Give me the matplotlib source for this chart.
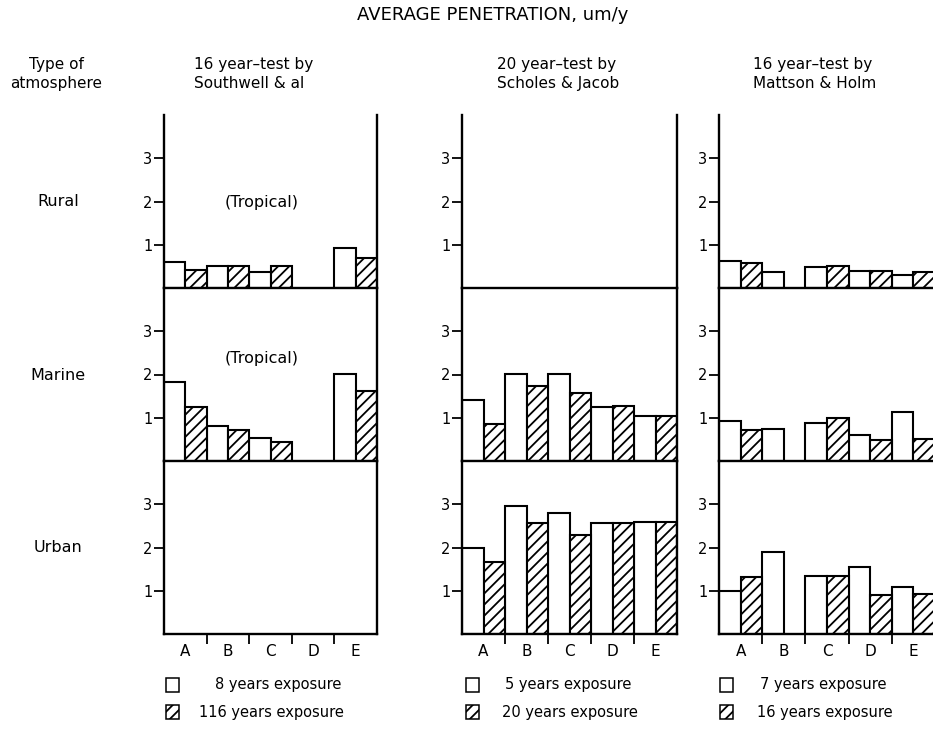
import numpy as np
import matplotlib
matplotlib.use("Agg")
import matplotlib.pyplot as plt
from matplotlib.patches import Rectangle

plt.rcParams["font.family"] = ["DejaVu Sans"]
plt.rcParams["hatch.linewidth"] = 1.3

W, H = 933, 738
nan = np.nan

categories = ["A", "B", "C", "D", "E"]
atmospheres = ["Rural", "Marine", "Urban"]

# Southwell & al, 16 year test (tropical sites)
southwell_short = [[0.59, 0.50, 0.38, nan, 0.93],
                   [1.82, 0.81, 0.53, nan, 2.02],
                   [nan, nan, nan, nan, nan]]
southwell_long = [[0.42, 0.50, 0.50, nan, 0.70],
                  [1.24, 0.71, 0.45, nan, 1.62],
                  [nan, nan, nan, nan, nan]]

# Scholes & Jacob, 20 year test
scholes_short = [[nan, nan, nan, nan, nan],
                 [1.41, 2.02, 2.02, 1.25, 1.03],
                 [2.00, 2.96, 2.80, 2.57, 2.60]]
scholes_long = [[nan, nan, nan, nan, nan],
                [0.86, 1.74, 1.57, 1.27, 1.05],
                [1.66, 2.57, 2.29, 2.57, 2.60]]

# Mattson & Holm, 16 year test
mattson_short = [[0.62, 0.37, 0.49, 0.39, 0.29],
                 [0.92, 0.74, 0.88, 0.61, 1.13],
                 [1.00, 1.89, 1.35, 1.54, 1.08]]
mattson_long = [[0.57, nan, 0.51, 0.39, 0.38],
                [0.72, nan, 0.99, 0.49, 0.50],
                [1.31, nan, 1.35, 0.91, 0.92]]

tests = [
    ("16 year\u2013test by\nSouthwell & al", southwell_short, southwell_long,
     "8 years exposure", "116 years exposure"),
    ("20 year\u2013test by\nScholes & Jacob", scholes_short, scholes_long,
     "5 years exposure", "20 years exposure"),
    ("16 year\u2013test by\nMattson & Holm", mattson_short, mattson_long,
     "7 years exposure", "16 years exposure"),
]

# panel placement in pixels: left edge, right edge
panel_x = [(164, 377), (462, 677), (719, 935)]
row_base = [288, 461, 634]
row_h = 173


def fx(x):
    return x / W


def fy(y):
    return 1 - y / H


fig = plt.figure(figsize=(W / 100, H / 100), dpi=100)

for p, (title, short, long_, lab_s, lab_l) in enumerate(tests):
    x0, x1 = panel_x[p]
    for r in range(3):
        ax = fig.add_axes([fx(x0), fy(row_base[r]), (x1 - x0) / W, row_h / H])
        ax.set_facecolor("none")
        s = np.array(short[r], dtype=float)
        l = np.array(long_[r], dtype=float)
        pos = np.arange(len(categories)) * 2
        ok = ~np.isnan(s)
        ax.bar(pos[ok] + 0.5, s[ok], width=1.0, color="white",
               edgecolor="black", linewidth=1.5)
        ok = ~np.isnan(l)
        ax.bar(pos[ok] + 1.5, l[ok], width=1.0, color="white",
               edgecolor="black", linewidth=1.5, hatch="///")
        ax.set_xlim(0, 10)
        ax.set_ylim(0, 4)
        ax.spines["top"].set_visible(False)
        for side in ["left", "bottom", "right"]:
            ax.spines[side].set_linewidth(1.7)
        ax.set_yticks([1, 2, 3])
        ax.set_yticklabels(["1", "2", "3"])
        ax.tick_params(axis="y", direction="out", length=7, width=1.3,
                       pad=1.5, labelsize=10.5)
        if r == 2:
            ax.set_xticks([2, 4, 6, 8])
            ax.set_xticklabels([])
            ax.set_xticks([1, 3, 5, 7, 9], minor=True)
            ax.set_xticklabels(categories, minor=True)
            ax.tick_params(axis="x", which="major", direction="out",
                           length=7, width=1.3)
            ax.tick_params(axis="x", which="minor", length=0, pad=7,
                           labelsize=11)
        else:
            ax.set_xticks([])

    # header of each test
    fig.text(fx([194, 497, 753][p]), fy(74), title, ha="left", va="center",
             fontsize=11, linespacing=1.4)

    # legend: open square and hatched square
    lx = [166, 466, 720][p]
    for k, (lab, hatch, tx) in enumerate([(lab_s, None, [215, 505, 760][p]),
                                         (lab_l, "///", [199, 502, 757][p])]):
        yy = [685, 712][k]
        fig.patches.append(Rectangle((fx(lx), fy(yy + 7)), 13 / W, 14 / H,
                                     transform=fig.transFigure,
                                     facecolor="white", edgecolor="black",
                                     linewidth=1.1, hatch=hatch))
        fig.text(fx(tx), fy(yy), lab, ha="left", va="center", fontsize=10.5)

fig.text(fx(493), fy(15), "AVERAGE PENETRATION, um/y", ha="center",
         va="center", fontsize=13)
fig.text(fx(56), fy(74), "Type of\natmosphere", ha="center", va="center",
         fontsize=11, linespacing=1.4)
for r, name in enumerate(atmospheres):
    fig.text(fx(58), fy(row_base[r] - 86), name, ha="center", va="center",
             fontsize=11.5)

# tropical test sites in the first study
fig.text(fx(262), fy(202), "(Tropical)", ha="center", va="center", fontsize=11.5)
fig.text(fx(262), fy(359), "(Tropical)", ha="center", va="center", fontsize=11.5)

fig.savefig("out.png", dpi=100)
